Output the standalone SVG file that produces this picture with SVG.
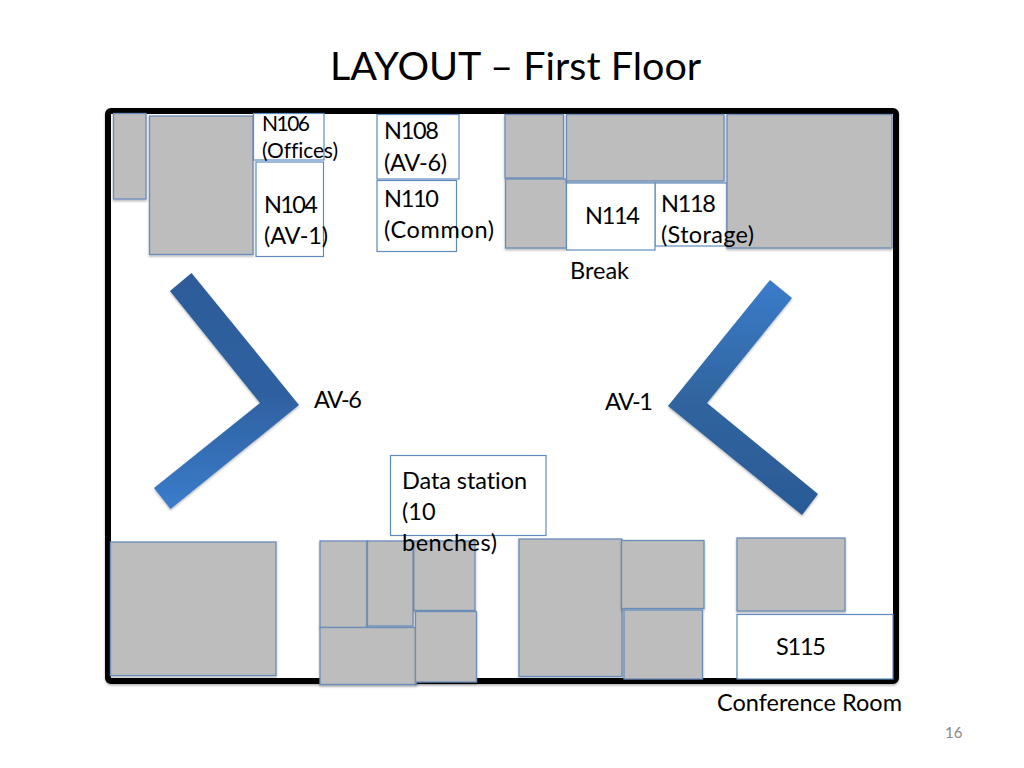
<svg xmlns="http://www.w3.org/2000/svg" width="1024" height="768" viewBox="0 0 1024 768">
<style>
text{font-family:"Lato","Liberation Sans",sans-serif;fill:#000;font-size:23.500px;font-variant-ligatures:none}
.g{fill:#bdbdbd;stroke:#6a8db9;stroke-width:1.300;filter:url(#sh)}
.w{fill:#fff;stroke:#5f8ac0;stroke-width:1.200}
.s{font-size:21px}
</style>
<defs>
<filter id="sh" x="-10%" y="-10%" width="120%" height="120%"><feDropShadow dx="0" dy="1.500" stdDeviation="1" flood-color="#000" flood-opacity="0.300"/></filter>
<linearGradient id="gl" x1="0" y1="0" x2="0" y2="1"><stop offset="0" stop-color="#2d5c9b"/><stop offset="0.500" stop-color="#2e609f"/><stop offset="1" stop-color="#3b7ccb"/></linearGradient>
<linearGradient id="gr" x1="0" y1="0" x2="0" y2="1"><stop offset="0" stop-color="#3b7ccb"/><stop offset="0.500" stop-color="#30659f"/><stop offset="1" stop-color="#2b5a96"/></linearGradient>
</defs>
<rect width="1024" height="768" fill="#fff"/>
<text x="330" y="80" style="font-size:39.500px">LAYOUT – First Floor</text>
<rect id="frame" x="108" y="111" width="788" height="570" rx="3" fill="#fff" stroke="#000" stroke-width="6" filter="url(#sh)"/>
<g id="top-rooms">
<rect class="g" x="113.500" y="113.500" width="32.500" height="85.500"/>
<rect class="g" x="149.500" y="116" width="103.500" height="138.500"/>
<rect class="w" x="253.500" y="113.500" width="70.500" height="46.500"/>
<rect class="w" x="256" y="162" width="67.500" height="94.500"/>
<rect class="w" x="377" y="114.500" width="82" height="64.500"/>
<rect class="w" x="377" y="180.500" width="79.500" height="71"/>
<rect class="g" x="505" y="114.500" width="58.500" height="63.500"/>
<rect class="g" x="505.500" y="179" width="61" height="69"/>
<rect class="g" x="566.500" y="114.500" width="157.500" height="66.500"/>
<rect class="w" x="655" y="183" width="72" height="63"/>
<rect class="w" x="566.500" y="183" width="88.500" height="67"/>
<rect class="g" x="727" y="114.500" width="165" height="133.500"/>
</g>
<g id="corridors">
<polygon points="191.500,273 299,405 170.500,509 154,488 260,403 170,291" fill="url(#gl)" filter="url(#sh)"/>
<polygon points="770,280 792,298 707,403 818,494 802,515 668,406" fill="url(#gr)" filter="url(#sh)"/>
</g>
<g id="bottom-rooms">
<rect class="g" x="110.500" y="542" width="165.500" height="133.500"/>
<rect class="g" x="413.500" y="541" width="61.500" height="69.500"/>
<rect class="g" x="320" y="541" width="47" height="86.500"/>
<rect class="g" x="367.500" y="541" width="45.500" height="85"/>
<rect class="g" x="320" y="627.500" width="96.500" height="57"/>
<rect class="g" x="415.500" y="611.500" width="61" height="70.500"/>
<rect class="g" x="519" y="539" width="103" height="137.500"/>
<rect class="g" x="621.500" y="540.500" width="82.500" height="68"/>
<rect class="g" x="624" y="610" width="78.500" height="69"/>
<rect class="g" x="737" y="538" width="108" height="73"/>
<rect class="w" x="737" y="614.500" width="156" height="64.500"/>
<rect class="w" x="390.500" y="455.500" width="155.500" height="80"/>
</g>
<g id="labels">
<text class="s" x="262" y="131" textLength="48">N106</text>
<text class="s" x="262" y="158" textLength="76">(Offices)</text>
<text x="264" y="213" textLength="54">N104</text>
<text x="264" y="244" textLength="64">(AV-1)</text>
<text x="384" y="139" textLength="55">N108</text>
<text x="384" y="171" textLength="63">(AV-6)</text>
<text x="384" y="207" textLength="55">N110</text>
<text x="384" y="238" textLength="110">(Common)</text>
<text x="585" y="224" textLength="55">N114</text>
<text x="570" y="279" textLength="59">Break</text>
<text x="661" y="212" textLength="55">N118</text>
<text x="661" y="243" textLength="93">(Storage)</text>
<text x="314" y="408" textLength="48">AV-6</text>
<text x="605" y="410" textLength="48">AV-1</text>
<text x="402" y="489" textLength="125">Data station</text>
<text x="402" y="520">(10</text>
<text x="402" y="551" textLength="95">benches)</text>
<text x="776" y="655" textLength="50">S115</text>
<text x="717" y="711" textLength="185">Conference Room</text>
<text x="945" y="738" style="font-size:15px;fill:#898989">16</text>
</g>
</svg>
